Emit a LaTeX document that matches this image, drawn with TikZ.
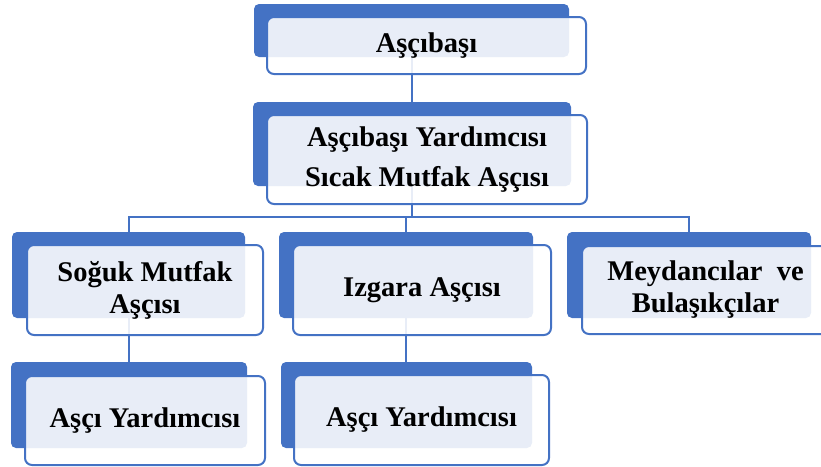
\documentclass[tikz,border=0pt]{standalone}
\usepackage{fontspec}
\setmainfont{Liberation Serif}
\usetikzlibrary{backgrounds}
\definecolor{acc}{HTML}{4472C4}
\begin{document}
\begin{tikzpicture}[x=1pt,y=-1pt,
  back/.style={fill=acc, rounded corners=5pt, inner sep=0pt},
  front/.style={draw=acc, line width=2pt, fill=white, fill opacity=0.88, text opacity=1,
    rounded corners=7pt, inner sep=0pt, align=center,
    font=\bfseries\fontsize{28.5}{32}\selectfont},
  link/.style={draw=acc, line width=2pt}]
\useasboundingbox (0,0) rectangle (821,466);
% box 1
\node[back, minimum width=315pt, minimum height=53pt] (b1) at (411.5,30.5) {};
\node[front, minimum width=319pt, minimum height=57pt] (f1) at (426.5,45.5) {Aşçıbaşı};
% box 2
\node[back, minimum width=318pt, minimum height=84pt] (b2) at (412,144) {};
\node[front, minimum width=320pt, minimum height=89pt,
  font=\bfseries\fontsize{28.5}{40}\selectfont] (f2) at (427,159.5) {Aşçıbaşı Yardımcısı\\Sıcak Mutfak Aşçısı};
% box 3
\node[back, minimum width=233pt, minimum height=86pt] (b3) at (128.5,275) {};
\node[front, minimum width=236pt, minimum height=90pt] (f3) at (145,290) {Soğuk Mutfak\\Aşçısı};
% box 4
\node[back, minimum width=254pt, minimum height=86pt] (b4) at (406,275) {};
\node[front, minimum width=258pt, minimum height=90pt] (f4) at (422,290) {Izgara Aşçısı};
% box 5
\node[back, minimum width=244pt, minimum height=86pt] (b5) at (689,275) {};
\node[front, minimum width=247pt, minimum height=88pt] (f5) at (705.5,290) {Meydancılar\ \ ve\\Bulaşıkçılar};
% box 6
\node[back, minimum width=236pt, minimum height=86pt] (b6) at (129,405) {};
\node[front, minimum width=240pt, minimum height=89pt] (f6) at (145,420.5) {Aşçı Yardımcısı};
% box 7
\node[back, minimum width=251pt, minimum height=86pt] (b7) at (406.5,405) {};
\node[front, minimum width=255pt, minimum height=90pt] (f7) at (421.5,420) {Aşçı Yardımcısı};
% connectors
\coordinate (jy) at (0,217);
\coordinate (j) at (b2.south |- jy);
\begin{pgfonlayer}{background}
\draw[link] (b1.south) -- (b1.south |- b2.north);
\draw[link] (b2.south) -- (j);
\draw[link] (j) -| (b3.north);
\draw[link] (j) -| (b4.north);
\draw[link] (j) -| (b5.north);
\draw[link] (b3.south) -- (b3.south |- b6.north);
\draw[link] (b4.south) -- (b4.south |- b7.north);
\end{pgfonlayer}
\end{tikzpicture}
\end{document}
